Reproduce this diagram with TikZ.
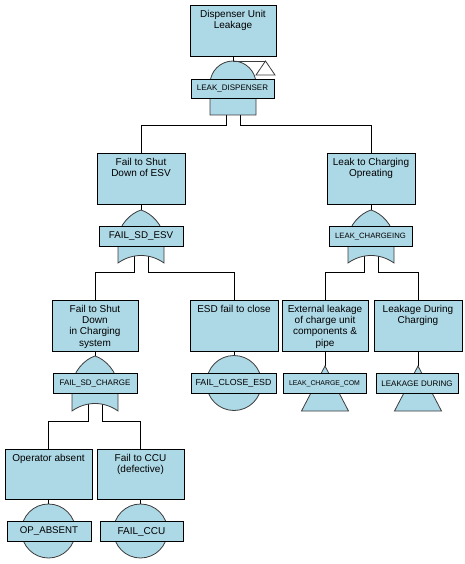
\documentclass[tikz,border=0pt]{standalone}
\usepackage{fontspec}
\usetikzlibrary{calc}
\setmainfont{Liberation Sans}
\definecolor{boxblue}{RGB}{173,216,230}
\definecolor{gateline}{RGB}{60,60,60}
\newcommand\bxt[3]{\parbox[c][#2][t]{#1}{\centering\vspace*{5pt}#3}}
\newcommand\fteorgate[4]{%
  \draw[gate] ({#1-23},#4) -- ({#1-23},#3)
    .. controls ({#1-23},{#3-15}) and ({#1-10},{#2+3}) .. (#1,#2)
    .. controls ({#1+10},{#2+3}) and ({#1+23},{#3-15}) .. ({#1+23},#3)
    -- ({#1+23},#4)
    .. controls ({#1+9},{#4-10}) and ({#1-9},{#4-10}) .. ({#1-23},#4) -- cycle;}
\begin{document}
\begin{tikzpicture}[x=1pt,y=-1pt,
  box/.style={draw=black, fill=boxblue, line width=0.8pt, inner sep=0pt,
    font=\fontsize{10}{11.3}\selectfont},
  lab/.style={draw=black, fill=boxblue, line width=0.8pt, inner sep=0pt,
    minimum height=19.5pt},
  gate/.style={draw=gateline, fill=boxblue, line width=0.8pt},
  conn/.style={draw=black, line width=0.8pt}]
\useasboundingbox (0,0) rectangle (465,564);

% ---------- boxes ----------
\node[box] (T)  at (233,30.5)  {\bxt{86pt}{51pt}{Dispenser Unit\\Leakage}};
\node[box] (L2) at (141,178.5) {\bxt{88pt}{51pt}{Fail to Shut\\Down of ESV}};
\node[box] (R2) at (371,178.5) {\bxt{88pt}{51pt}{Leak to Charging\\Opreating}};
\node[box] (A)  at (95,325.5)  {\bxt{86pt}{51pt}{Fail to Shut\\Down\\in Charging\\system}};
\node[box] (B)  at (234,325.5) {\bxt{88pt}{51pt}{ESD fail to close}};
\node[box] (C)  at (325,325.5) {\bxt{86pt}{51pt}{External leakage\\of charge unit\\components \&\\pipe}};
\node[box] (D)  at (418,325.5) {\bxt{88pt}{51pt}{Leakage During\\Charging}};
\node[box] (E)  at (48.5,474)  {\bxt{87pt}{50pt}{Operator absent}};
\node[box] (F)  at (140.5,474) {\bxt{87pt}{50pt}{Fail to CCU\\(defective)}};

% ---------- gate coordinates ----------
\coordinate (g1top) at (233,61);
\coordinate (tr) at (265.5,61);
\coordinate (g1l) at (226,115);
\coordinate (g1r) at (240,115);
\coordinate (g2top) at (141,210);
\coordinate (g2l) at (134,256);
\coordinate (g2r) at (148,256);
\coordinate (g3top) at (371,210);
\coordinate (g3l) at (364,256);
\coordinate (g3r) at (378,256);
\coordinate (g4top) at (95,356);
\coordinate (g4l) at (88,404);
\coordinate (g4r) at (102,404);
\coordinate (cB) at (234,383);
\coordinate (cE) at (48.5,531);
\coordinate (cF) at (140.5,531);
\coordinate (cBt) at (234,355.5);
\coordinate (cEt) at (48.5,504);
\coordinate (cFt) at (140.5,504);
\coordinate (tC) at (325,366);
\coordinate (tD) at (418,366);

% ---------- connectors ----------
\draw[conn] (T.south) -- (g1top);
\draw[conn] (g1l) -- ++(0,10) -| (L2.north);
\draw[conn] (g1r) -- ++(0,10) -| (R2.north);
\draw[conn] (L2.south) -- (g2top);
\draw[conn] (R2.south) -- (g3top);
\draw[conn] (g2l) -- ++(0,16) -| (A.north);
\draw[conn] (g2r) -- ++(0,16) -| (B.north);
\draw[conn] (g3l) -- ++(0,16) -| (C.north);
\draw[conn] (g3r) -- ++(0,16) -| (D.north);
\draw[conn] (A.south) -- (g4top);
\draw[conn] (g4l) -- ++(0,17) -| (E.north);
\draw[conn] (g4r) -- ++(0,17) -| (F.north);
\draw[conn] (B.south) -- (cBt);
\draw[conn] (C.south) -- (tC);
\draw[conn] (D.south) -- (tD);
\draw[conn] (E.south) -- (cEt);
\draw[conn] (F.south) -- (cFt);

% ---------- gate shapes ----------
% AND gate (top)
\draw[gate] (210,115) -- (210,84) .. controls (210,71.3) and (220.3,61) .. (g1top)
  .. controls (245.7,61) and (256,71.3) .. (256,84) -- (256,115) -- cycle;
% transfer triangle
\draw[draw=gateline, line width=0.8pt] (g1top) -- (tr);
\draw[draw=gateline, line width=0.8pt] (tr) -- (275,75) -- (256,75) -- cycle;
% OR gates
\fteorgate{141}{210}{240}{263}
\fteorgate{371}{210}{240}{263}
\fteorgate{95}{356}{387}{411}
% basic events
\draw[gate] (cB) circle[radius=27.5pt];
\draw[gate] (cE) circle[radius=27pt];
\draw[gate] (cF) circle[radius=27pt];
% transfer-in triangles
\draw[gate] (tC) -- (348.5,411) -- (301.5,411) -- cycle;
\draw[gate] (tD) -- (441.5,411) -- (394.5,411) -- cycle;

% ---------- labels ----------
\node[lab, minimum width=83pt, font=\fontsize{8}{9}\selectfont] (lDisp) at (232.5,89) {LEAK\_DISPENSER};
\node[lab, minimum width=84pt, font=\fontsize{9.8}{11}\selectfont] (lEsv) at (141,236.5) {FAIL\_SD\_ESV};
\node[lab, minimum width=83pt, font=\fontsize{7.7}{9}\selectfont] (lChg) at (370.5,236.5) {LEAK\_CHARGEING};
\node[lab, minimum width=84pt, font=\fontsize{8}{9}\selectfont] (lSdc) at (95,383.5) {FAIL\_SD\_CHARGE};
\node[lab, minimum width=85pt, font=\fontsize{8.8}{10}\selectfont] (lCls) at (233.5,383.5) {FAIL\_CLOSE\_ESD};
\node[lab, minimum width=83pt, font=\fontsize{6.9}{8}\selectfont] (lCom) at (324.5,383.5) {LEAK\_CHARGE\_COM};
\node[lab, minimum width=82pt, font=\fontsize{8}{9}\selectfont] (lDur) at (417,383.5) {LEAKAGE DURING};
\node[lab, minimum width=84pt, font=\fontsize{9.7}{11}\selectfont] (lOp) at (49,531.5) {OP\_ABSENT};
\node[lab, minimum width=83pt, font=\fontsize{10}{11}\selectfont] (lCcu) at (141.5,531.5) {FAIL\_CCU};
\end{tikzpicture}
\end{document}
